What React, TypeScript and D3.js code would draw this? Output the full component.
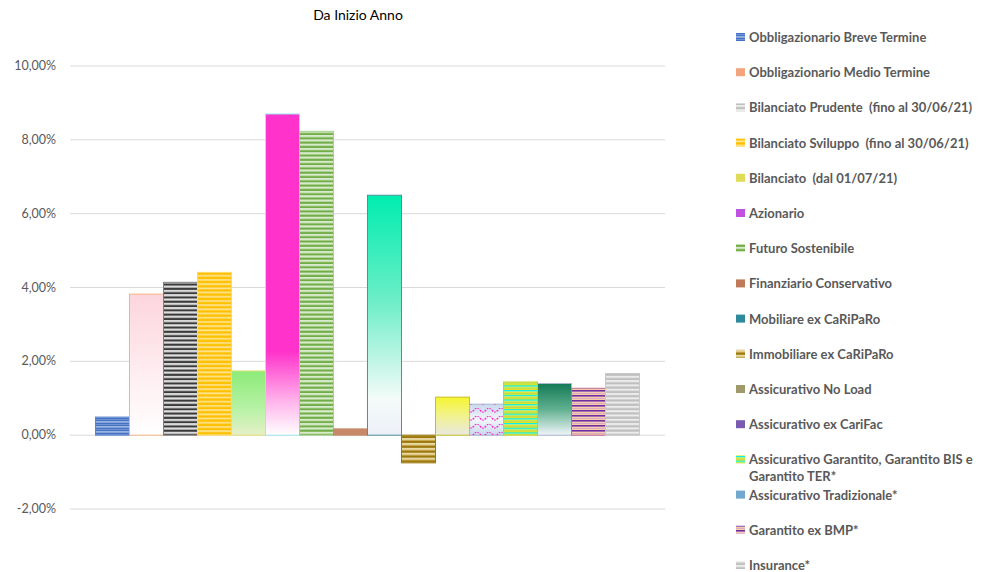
import React from "react";
import * as d3 from "d3";

const series = [
  "Obbligazionario Breve Termine",
  "Obbligazionario Medio Termine",
  "Bilanciato Prudente  (fino al 30/06/21)",
  "Bilanciato Sviluppo  (fino al 30/06/21)",
  "Bilanciato  (dal 01/07/21)",
  "Azionario",
  "Futuro Sostenibile",
  "Finanziario Conservativo",
  "Mobiliare ex CaRiPaRo",
  "Immobiliare ex CaRiPaRo",
  "Assicurativo No Load",
  "Assicurativo ex CariFac",
  "Assicurativo Garantito, Garantito BIS e Garantito TER*",
  "Assicurativo Tradizionale*",
  "Garantito ex BMP*",
  "Insurance*",
];
const values = [0.0049, 0.0382, 0.0414, 0.0441, 0.0174, 0.087, 0.0823, 0.0017, 0.065, -0.0075, 0.0103, 0.0084, 0.0144, 0.014, 0.0127, 0.0167];
const yTicks = [-0.02, 0, 0.02, 0.04, 0.06, 0.08, 0.1];
const title = "Da Inizio Anno";

const fills = [
  "url(#p0)", "url(#g1)", "url(#p2)", "url(#p3)", "url(#g4)", "url(#g5)", "url(#p6)", "#C8896A",
  "url(#g8)", "url(#p9)", "url(#g10)", "url(#g11)", "url(#p12)", "url(#g13)", "url(#p14)", "url(#p15)",
];
const strokes = [
  "#5B84D0", "#F4B183", "#7F7F7F", "#FFD966", "#E2E27A", "#9EE6F5", "#A9D18E", "#C8896A",
  "#4F8FA0", "#9C7A10", "#C8C020", "#A9B8D0", "#C8D020", "#A9B8D0", "#C07090", "#C8C8C8",
];
const legendMarks = [
  "url(#p0)", "#F4A47C", "url(#p15)", "url(#p3)", "#E0DC5A", "#C050E0", "url(#p6)", "#C07A58",
  "#2E8A9A", "url(#p9)", "#A09A6A", "#7A5AB0", "url(#p12)", "#70A8D0", "url(#p14)", "url(#p15)",
];

function Stripes({ id, colors, h }: { id: string; colors: string[]; h: number[] }) {
  const total = h.reduce((a, b) => a + b, 0);
  let acc = 0;
  return (
    <pattern id={id} patternUnits="userSpaceOnUse" width={8} height={total}>
      {colors.map((c, i) => {
        const y = acc;
        acc += h[i];
        return <rect key={i} x={0} y={y} width={8} height={h[i]} fill={c} />;
      })}
    </pattern>
  );
}

function VGrad({ id, stops }: { id: string; stops: [number, string][] }) {
  return (
    <linearGradient id={id} x1="0" y1="0" x2="0" y2="1">
      {stops.map(([o, c], i) => (
        <stop key={i} offset={o} stopColor={c} />
      ))}
    </linearGradient>
  );
}

export default function App() {
  const W = 985, H = 572;
  const plotL = 70, plotR = 665;
  const y = d3.scaleLinear().domain([-0.02, 0.1]).range([509, 66]);
  const barW = (plotR - plotL) / (series.length + 1.5);
  const x = d3
    .scaleBand<string>()
    .domain(series)
    .range([plotL + barW * 0.75, plotR - barW * 0.75])
    .padding(0);
  const fmt = (v: number) => (v * 100).toFixed(2).replace(".", ",") + "%";
  const legendY0 = 38, legendStep = 35.2;
  const font = "Lato, 'Open Sans', sans-serif";

  return (
    <svg width={W} height={H} style={{ position: "absolute", left: 0, top: 0, background: "#fff" }}>
      <defs>
        <Stripes id="p0" colors={["#4472C4", "#8FAADC", "#4472C4", "#6F92D4"]} h={[1.5, 1, 1.5, 1]} />
        <Stripes id="p2" colors={["#3A3A3A", "#E0E0E0", "#9A9A9A"]} h={[2, 1.5, 0.8]} />
        <Stripes id="p3" colors={["#FFC000", "#FFE38A", "#FFCC33"]} h={[2.2, 1, 1]} />
        <Stripes id="p6" colors={["#70AD47", "#DCEBD0", "#A9D18E"]} h={[2, 1.3, 1]} />
        <Stripes id="p9" colors={["#9C7A10", "#EAD79A", "#C8A850"]} h={[2.2, 1.5, 1.2]} />
        <Stripes id="p12" colors={["#00F0F0", "#E8E820", "#8CC020", "#E8E820"]} h={[1.5, 1.2, 0.8, 1.2]} />
        <Stripes id="p14" colors={["#7030A0", "#F8CBAD", "#C890B8", "#F8CBAD"]} h={[1.8, 1.2, 0.8, 1.2]} />
        <Stripes id="p15" colors={["#BFBFBF", "#EDEDED", "#D0D0D0"]} h={[2, 1.3, 1]} />
        <VGrad id="g1" stops={[[0, "#FDD5DE"], [0.6, "#FEEFF2"], [1, "#FFFFFF"]]} />
        <VGrad id="g4" stops={[[0, "#8CEB78"], [0.6, "#B8F2A6"], [1, "#E6F0C8"]]} />
        <VGrad id="g5" stops={[[0, "#FF33CC"], [0.74, "#FF33CC"], [0.9, "#FFB8EC"], [1, "#FFFFFF"]]} />
        <VGrad id="g8" stops={[[0, "#00EDB0"], [0.45, "#70EEC8"], [0.85, "#F4FBF9"], [1, "#EEF0F8"]]} />
        <VGrad id="g10" stops={[[0, "#F5F530"], [0.5, "#F2F290"], [1, "#E8E8E0"]]} />
        <VGrad id="g11" stops={[[0, "#C8D8EC"], [0.5, "#F2F6FB"], [1, "#C8D8EC"]]} />
        <VGrad id="g13" stops={[[0, "#137A56"], [0.5, "#60B090"], [1, "#F2F6FA"]]} />
        <pattern id="wave" patternUnits="userSpaceOnUse" width={12} height={8}>
          <path d="M0,2 Q3,6 6,2 T12,2" fill="none" stroke="#FF33CC" strokeWidth={1.6} strokeDasharray="1.6 1.2" />
        </pattern>
      </defs>

      <text x={358} y={20} textAnchor="middle" fontFamily={font} fontSize={14} fill="#000">
        {title}
      </text>

      {yTicks.map((t) => (
        <g key={t}>
          <line x1={plotL} x2={plotR} y1={y(t)} y2={y(t)} stroke="#D9D9D9" strokeWidth={1} />
          <text x={56} y={y(t) + 4} textAnchor="end" fontFamily={font} fontSize={12.5} fill="#595959">
            {fmt(t)}
          </text>
        </g>
      ))}

      {series.map((s, i) => {
        const v = values[i];
        const y0 = y(Math.max(0, v));
        const h = Math.abs(y(v) - y(0));
        const bx = x(s)!;
        return (
          <g key={s}>
            <rect x={bx} y={y0} width={x.bandwidth()} height={h} fill={fills[i]} stroke={strokes[i]} strokeWidth={1} />
            {i === 11 && <rect x={bx} y={y0} width={x.bandwidth()} height={h} fill="url(#wave)" />}
          </g>
        );
      })}

      {series.map((s, i) => {
        const ly = legendY0 + i * legendStep;
        const wrap = i === 12;
        return (
          <g key={"l" + s}>
            <rect x={736} y={ly - 5} width={9} height={8} fill={legendMarks[i]} />
            <text
              x={749}
              y={ly + 4}
              fontFamily={font}
              fontWeight={700}
              fontSize={13}
              fill="#595959"
              style={{ whiteSpace: "pre" }}
            >
              {wrap ? (
                <>
                  <tspan x={749}>Assicurativo Garantito, Garantito BIS e</tspan>
                  <tspan x={749} dy={17}>Garantito TER*</tspan>
                </>
              ) : (
                s
              )}
            </text>
          </g>
        );
      })}
    </svg>
  );
}
